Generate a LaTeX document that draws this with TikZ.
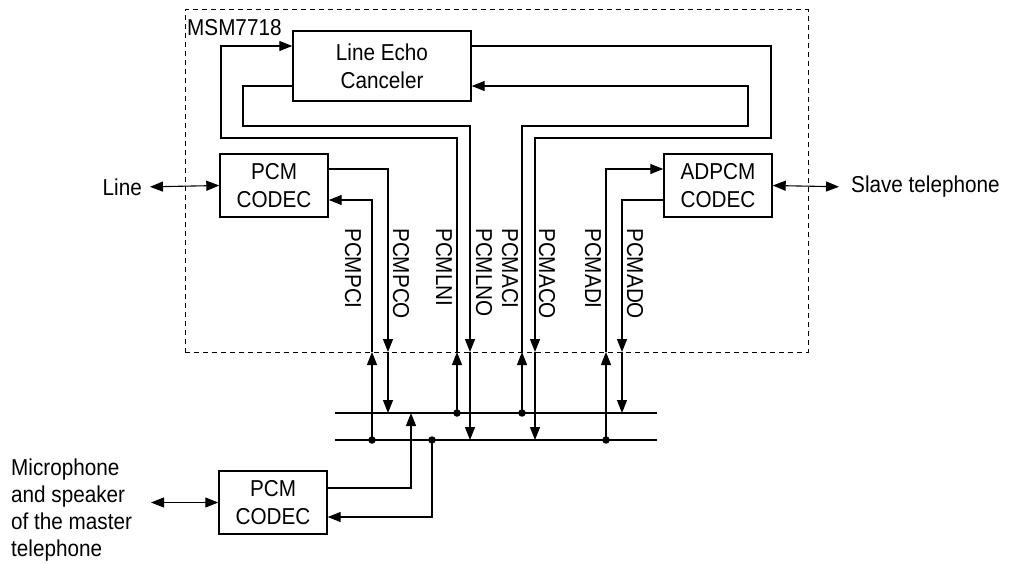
\documentclass[tikz,border=0pt]{standalone}
\usepackage{fontspec}
\setmainfont{Liberation Sans}[FakeStretch=0.9]
\usetikzlibrary{arrows.meta}

\begin{document}
\begin{tikzpicture}[x=1pt,y=-1pt,
      blk/.style={draw,line width=1.4pt,inner sep=0pt,align=center,
        font=\fontsize{23}{28}\selectfont},
      wire/.style={line width=1.1pt},
      arr/.style={wire,-{Triangle[length=13pt,width=10pt]}},
      darr/.style={wire,{Triangle[length=13pt,width=10pt]}-{Triangle[length=13pt,width=10pt]}},
      sig/.style={rotate=-90,anchor=west,inner sep=0pt,font=\fontsize{23}{23}\selectfont},
      txt/.style={inner sep=0pt,font=\fontsize{23}{27}\selectfont},
      dot/.style={circle,fill,inner sep=0pt,minimum size=7.5pt}]
    \useasboundingbox (0,0) rectangle (1009,564);
    % the chip
    \node[draw,dashed,dash pattern=on 5pt off 4pt,line width=1pt,
      minimum width=623pt,minimum height=342pt] (chip) at (496.5,181) {};
    \node[txt,anchor=base west] (name) at (187,36) {MSM7718};
    \node[blk,minimum width=178pt,minimum height=70pt] (lec) at (382,66) {Line Echo\\Canceler};
    \node[blk,minimum width=108pt,minimum height=63pt] (pcm) at (274,185.5) {PCM\\CODEC};
    \node[blk,minimum width=108pt,minimum height=63pt] (adpcm) at (718,185.5) {ADPCM\\CODEC};
    % outside
    \node[blk,minimum width=108pt,minimum height=63pt] (mpcm) at (273,502.5) {PCM\\CODEC};
    \node[txt,anchor=east] (line) at (142,187) {Line};
    \node[txt,anchor=west] (slave) at (851,187) {Slave telephone};
    \node[txt,anchor=west,align=left] (mic) at (11,510) {Microphone\\and speaker\\of the master\\telephone};
    \draw[darr,shorten <=8pt] (line.east) -- (pcm.west);
    \draw[darr,shorten >=12pt] (adpcm.east) -- (slave.west);
    \draw[darr] (mpcm.west) -- (mpcm.west -| 151,0);
    % rows and corners
    \coordinate (rowA) at (0,46);
    \coordinate (rowB) at (0,86);
    \coordinate (rowC) at (0,169);
    \coordinate (rowD) at (0,200);
    \coordinate (cLo) at (221,138);
    \coordinate (cLi) at (243,126);
    \coordinate (cRi) at (748,126);
    \coordinate (cRo) at (771,138);
    % crossing points on the chip edge, and signal names
    \foreach \n/\x in {pci/372,pco/388,lni/457,lno/470,aci/522,aco/535,adi/606,ado/622}{
      \coordinate (\n) at (\x,352);
    }
    \node[sig] (lpci) at (353,228) {PCMPCI};
    \node[sig] (lpco) at (401,228) {PCMPCO};
    \node[sig] (llni) at (444,228) {PCMLNI};
    \node[sig] (llno) at (484,228) {PCMLNO};
    \node[sig] (laci) at (510,228) {PCMACI};
    \node[sig] (laco) at (547,228) {PCMACO};
    \node[sig] (ladi) at (593,228) {PCMADI};
    \node[sig] (lado) at (635,228) {PCMADO};
    % bus lines
    \coordinate (busAw) at (335,413);
    \coordinate (busAe) at (657,413);
    \coordinate (busBw) at (335,440);
    \coordinate (busBe) at (657,440);
    \draw[wire] (busAw) -- (busAe);
    \draw[wire] (busBw) -- (busBe);
    \node[dot] (dpci) at (pci |- busBw) {};
    \node[dot] (dlni) at (lni |- busAw) {};
    \node[dot] (daci) at (aci |- busAw) {};
    \node[dot] (dadi) at (adi |- busBw) {};
    \node[dot] (dmic) at (432,440) {};
    % PCM codec
    \draw[arr] (pcm.east |- rowC) -| (pco);
    \draw[arr] (pco) -- (pco |- busAw);
    \draw[arr] (dpci.center) -- (pci);
    \draw[arr] (pci) |- (pcm.east |- rowD);
    % line echo canceler
    \draw[arr] (dlni.center) -- (lni);
    \draw[arr] (lni) |- (cLo) |- (lec.west |- rowA);
    \draw[arr] (lec.west |- rowB) -| (cLi) -| (lno);
    \draw[arr] (lno) -- (lno |- busBw);
    \draw[arr] (daci.center) -- (aci);
    \draw[arr] (aci) |- (cRi) |- (lec.east |- rowB);
    \draw[arr] (lec.east |- rowA) -| (cRo) -| (aco);
    \draw[arr] (aco) -- (aco |- busBw);
    % ADPCM codec
    \draw[arr] (dadi.center) -- (adi);
    \draw[arr] (adi) |- (adpcm.west |- rowC);
    \draw[arr] (adpcm.west |- rowD) -| (ado);
    \draw[arr] (ado) -- (ado |- busAw);
    % master telephone codec
    \draw[arr] (mpcm.east |- 0,488) -| (411,413);
    \draw[arr] (dmic.center) |- (mpcm.east |- 0,517);
  \end{tikzpicture}
\end{document}
